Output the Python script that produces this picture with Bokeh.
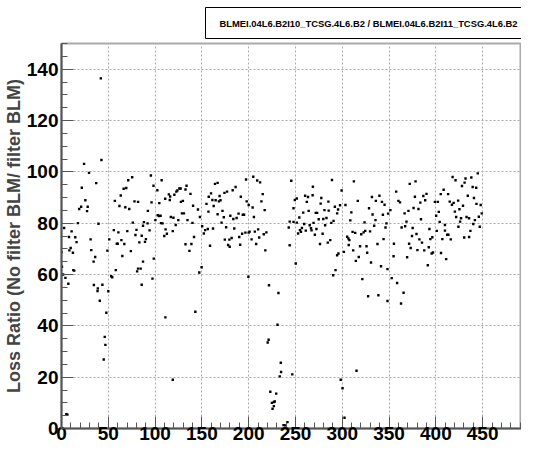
from bokeh.plotting import figure
from bokeh.models import SingleIntervalTicker, Title
from bokeh.embed import file_html
from bokeh.resources import INLINE

idx = [
    0.0, 0.5, 1.7, 2.8, 4.2, 5.2, 6.3, 7.3, 8.0, 8.4, 9.8, 10.8, 12.2, 12.6, 13.6, 14.7, 16.1, 17.5, 18.9,
    21.0, 21.7, 24.1, 25.5, 27.3, 28.0, 29.4, 31.1, 31.8, 34.3, 34.6, 36.0, 37.1, 38.5, 38.8, 39.5, 40.9,
    42.0, 42.7, 43.7, 45.1, 46.2, 46.9, 47.9, 49.0,
    50.0, 51.0, 53.1, 54.2, 55.9, 57.0, 58.0, 59.1, 60.1, 60.8, 61.9, 63.3, 64.0, 65.0, 66.4, 67.1, 68.2,
    69.2, 70.3, 71.3, 72.4, 74.1, 75.5, 76.2, 78.0, 79.0, 80.1, 80.8, 81.8, 81.8, 83.2, 84.6, 85.7, 85.7,
    87.1, 87.1, 88.1, 89.2, 90.2, 92.0, 92.3, 94.1, 95.5, 96.2, 97.2, 98.3, 98.6, 100.3, 102.4, 102.8,
    104.2, 104.5, 105.9, 106.3, 107.0, 108.0, 109.8, 110.8, 111.0, 111.2, 112.6, 114.7, 115.7, 116.1,
    116.8, 118.9, 118.9, 119.6,
    120.6, 122.0, 122.7, 123.8, 124.8, 125.9, 127.3, 127.6, 128.7, 129.7, 130.8, 132.5, 132.5, 133.6,
    134.6, 136.7, 137.8, 138.8, 139.9, 140.6, 141.6, 143.0, 145.8, 147.2, 147.9, 149.7, 150.3, 152.1,
    153.5, 154.9, 156.3, 157.0, 157.3, 158.7, 159.8, 161.2, 161.9, 162.6, 164.0, 164.7, 166.8, 166.8,
    168.2, 168.9, 169.9, 171.0, 172.0, 173.4, 174.1, 174.5, 175.9, 176.9, 178.0, 179.4, 179.7, 180.4,
    181.8, 182.9, 183.6, 184.6, 186.0, 187.1, 189.2, 189.9, 190.9, 191.6, 193.0, 193.7, 195.1, 196.5,
    197.2, 197.9, 199.7, 200.0, 200.0, 201.0, 203.1, 204.2, 204.9, 205.6, 206.6, 208.0, 209.1, 210.1,
    211.2, 212.2, 213.6, 215.0, 216.1, 217.1, 217.8, 218.9, 220.3, 221.3, 221.7, 223.1, 224.8, 225.5,
    226.9, 226.9, 227.9, 229.4, 230.8, 231.8, 233.2, 234.3, 234.6,
    237.2, 239.0, 241.4, 242.8, 243.8, 243.8, 245.5, 246.6, 247.9, 247.9, 249.3, 250.3, 251.4, 251.4,
    252.8, 254.1, 254.8, 255.9, 256.9, 258.3, 259.3, 260.3, 261.0, 262.1, 263.4, 264.1, 265.2, 266.6,
    267.2, 268.3, 268.6, 269.3, 270.7, 271.7, 273.1, 272.4, 274.8, 276.2, 276.9, 277.6, 279.0, 279.7,
    281.0, 281.7, 283.1, 284.5, 285.2, 285.5, 287.2, 288.3, 289.0, 290.3, 290.7, 292.1, 292.8, 294.5,
    294.5, 295.5, 295.9, 297.6, 298.3, 299.3, 300.3, 301.7, 302.4, 303.4, 305.2, 306.6, 306.9, 307.6,
    308.6, 309.7, 311.0, 311.7, 312.4, 313.8, 314.5, 315.2, 316.6, 317.6, 319.0, 320.3, 321.4, 322.8,
    323.8, 324.5, 325.9, 326.6, 327.6, 328.6, 329.7, 330.7, 331.7, 332.4, 334.1, 335.5, 335.9, 337.6,
    338.6, 339.7, 341.4, 342.4, 343.4, 344.1, 345.2, 346.2, 347.2, 348.3, 348.3, 349.0,
    351.4, 352.8, 354.8, 355.2, 357.6, 358.6, 360.0, 361.7, 362.8, 363.4, 365.5, 366.6, 367.2, 368.6,
    369.3, 370.7, 371.4, 372.1, 373.1, 374.5, 375.2, 376.2, 377.6, 378.3, 379.3, 380.3, 381.4, 382.4,
    383.4, 384.1, 385.2, 386.6, 387.6, 388.6, 390.0, 391.4, 392.4, 393.1, 394.1, 395.5, 396.2, 396.9,
    399.0, 400.3, 401.0, 402.1, 403.1, 404.1, 405.2, 405.5, 406.9, 408.3, 409.7, 409.7, 411.0, 412.1,
    413.1, 413.4, 414.8, 415.9, 417.2, 417.9, 419.0, 420.3, 421.0, 421.7, 423.8, 424.1, 425.2, 425.9,
    426.9, 427.9, 429.0, 430.3, 430.7, 431.7, 432.8, 434.1, 435.5, 435.5, 436.9, 437.9, 439.3, 440.0,
    440.7, 441.7, 443.1, 443.4, 444.8, 445.9, 446.9, 447.9, 449.0,
]

ratio = [
    68.7, 63.0, 60.0, 78.1, 58.7, 5.6, 5.4, 56.4, 74.6, 69.4, 70.3, 76.8, 68.5, 61.7, 61.5, 74.5, 72.6, 80.0, 85.5,
    86.4, 93.8, 103.1, 88.9, 84.7, 86.4, 99.6, 73.7, 69.5, 65.0, 55.9, 66.8, 95.6, 53.6, 54.6, 79.8, 49.8,
    136.4, 104.6, 56.0, 26.9, 35.7, 32.6, 45.1, 69.3,
    53.5, 73.7, 59.3, 58.9, 77.3, 88.7, 61.7, 72.0, 72.0, 76.4, 86.7, 90.8, 73.4, 67.2, 93.4, 71.9, 86.2,
    93.7, 76.9, 96.7, 85.5, 69.1, 97.9, 80.2, 88.5, 75.4, 77.4, 61.2, 88.3, 62.3, 72.5, 62.3, 75.1, 56.0,
    79.0, 65.0, 80.4, 72.7, 73.8, 79.9, 84.8, 77.2, 98.6, 88.1, 58.4, 94.6, 66.2, 81.2, 92.8, 83.1,
    82.8, 87.8, 82.9, 80.0, 96.7, 79.9, 75.0, 89.5, 43.3, 77.6, 75.9, 91.2, 89.0, 90.4,
    82.4, 76.9, 19.0, 82.1,
    91.1, 79.3, 92.3, 92.7, 81.2, 93.5, 93.5, 88.3, 83.8, 88.7, 83.8, 93.1, 71.8, 94.6,
    81.2, 69.2, 91.4, 71.9, 80.1, 86.8, 74.6, 45.5, 85.3, 60.8, 82.4, 62.8, 78.8, 76.0,
    77.3, 87.5, 77.7, 84.5, 90.3, 71.2, 91.6, 89.0, 77.9, 86.7, 95.3, 88.9, 95.7, 83.5,
    88.5, 90.6, 88.9, 80.2, 84.8, 82.3, 91.8, 73.6, 78.4, 92.3, 71.5, 73.6, 70.8, 82.9,
    74.2, 92.8, 81.6, 77.9, 94.1, 82.0, 83.7, 74.6, 71.6, 90.3, 75.9, 83.3, 83.3, 76.3,
    97.0, 88.5, 59.1, 87.1, 76.3, 76.7, 73.7, 86.1, 98.1, 82.4, 76.7, 71.9, 96.6, 77.6,
    74.4, 95.9, 88.5, 91.3, 75.7, 85.1, 69.4, 76.4, 33.5, 34.6, 55.8, 14.3, 10.0, 7.7,
    10.3, 8.7, 10.5, 13.6, 40.4, 52.8, 20.3, 25.6, 22.0,
    1.3, 1.2, 2.5, 78.3, 80.6, 71.4, 96.5, 21.1, 85.8, 80.5, 89.0, 64.3, 89.6, 80.2,
    76.0, 82.2, 77.3, 76.6, 78.1, 84.1, 79.7, 90.7, 77.1, 88.3, 90.2, 84.8, 79.2, 78.0,
    77.2, 90.9, 94.2, 80.1, 75.5, 84.0, 84.0, 77.7, 81.5, 71.9, 87.6, 89.8, 75.9, 81.6,
    85.1, 79.2, 82.0, 72.4, 88.4, 84.9, 73.4, 80.1, 96.8, 59.7, 80.9, 86.4, 61.7, 83.8,
    67.5, 85.3, 68.2, 87.0, 19.0, 92.7, 15.7, 68.8, 4.2, 87.1, 74.7, 74.0, 71.5, 73.4,
    81.1, 84.2, 76.6, 69.4, 96.3, 76.2, 65.3, 22.5, 88.7, 66.8, 71.0, 75.7, 58.2, 76.4,
    80.3, 77.0, 71.0, 68.5, 51.5, 85.8, 76.8, 64.7, 90.2, 83.4, 79.0, 81.2, 88.7, 71.9,
    51.9, 90.7, 63.2, 88.3, 83.3, 73.8, 87.2, 78.3, 79.9, 62.1, 49.7, 83.7,
    85.1, 58.6, 67.1, 72.0, 92.3, 56.7, 88.7, 88.1, 48.7, 78.3, 52.9, 83.8, 78.8, 80.6,
    66.7, 84.8, 72.0, 95.3, 70.3, 75.0, 78.1, 85.9, 90.3, 96.3, 75.8, 69.5, 85.5, 73.7,
    88.0, 81.5, 72.4, 90.6, 69.4, 88.9, 91.4, 63.6, 70.6, 77.7, 73.8, 68.2, 74.5, 68.6,
    88.3, 82.9, 77.0, 88.3, 84.4, 80.5, 91.3, 68.4, 73.8, 93.0, 79.3, 77.1, 66.0, 75.5,
    91.3, 75.5, 88.4, 73.7, 87.2, 98.0, 87.9, 84.5, 96.7, 82.4, 88.8, 78.6, 85.4, 80.6,
    81.9, 94.5, 86.8, 74.4, 95.8, 97.4, 82.4, 90.7, 81.9, 74.6, 77.0, 97.8, 94.1, 79.7,
    89.8, 81.2, 93.8, 87.5, 99.4, 82.5, 78.6, 87.1, 83.8,
]

title_text = "BLMEI.04L6.B2I10_TCSG.4L6.B2 / BLMEI.04L6.B2I11_TCSG.4L6.B2"
y_label = "Loss Ratio (No filter BLM/ filter BLM)"

FONT = "Liberation Sans"

p = figure(frame_width=460, frame_height=385, x_range=(0, 491.5), y_range=(0, 150),
           output_backend="svg", toolbar_location=None,
           min_border_left=58, min_border_right=0, min_border_top=35, min_border_bottom=20)

p.title = Title(text=title_text, align="left", offset=144,
                text_font=FONT, text_font_size="9.4px", text_font_style="bold",
                text_color="black",
                border_line_color="black", border_line_width=1,
                background_fill_color="white",
                padding=dict(left=14, right=14, top=10, bottom=10))

p.scatter(idx, ratio, marker="square", size=2.4, color="black", line_width=0)

p.xaxis.ticker = SingleIntervalTicker(interval=50, num_minor_ticks=5)
p.yaxis.ticker = SingleIntervalTicker(interval=20, num_minor_ticks=4)

for ax in (p.xaxis[0], p.yaxis[0]):
    ax.major_tick_in = 12
    ax.major_tick_out = 0
    ax.minor_tick_in = 6
    ax.minor_tick_out = 0
    ax.axis_line_color = "#555555"
    ax.axis_line_width = 2
    ax.major_tick_line_color = "#555555"
    ax.minor_tick_line_color = "#555555"
    ax.major_label_text_font = FONT
    ax.major_label_text_font_style = "bold"
    ax.major_label_text_font_size = "19px"
    ax.major_label_text_color = "black"

p.xaxis.major_label_standoff = -2
p.yaxis.major_label_standoff = 3
p.yaxis.axis_label = y_label
p.yaxis.axis_label_text_font = FONT
p.yaxis.axis_label_text_font_style = "bold"
p.yaxis.axis_label_text_font_size = "18px"
p.yaxis.axis_label_standoff = 0

for g in (p.xgrid[0], p.ygrid[0]):
    g.grid_line_color = "#aaaaaa"
    g.grid_line_dash = "2 2"
    g.grid_line_width = 1

p.outline_line_color = "#aaaaaa"
p.outline_line_width = 2
p.background_fill_color = "white"
p.border_fill_color = "white"

open("out.html", "w").write(file_html(p, INLINE))
